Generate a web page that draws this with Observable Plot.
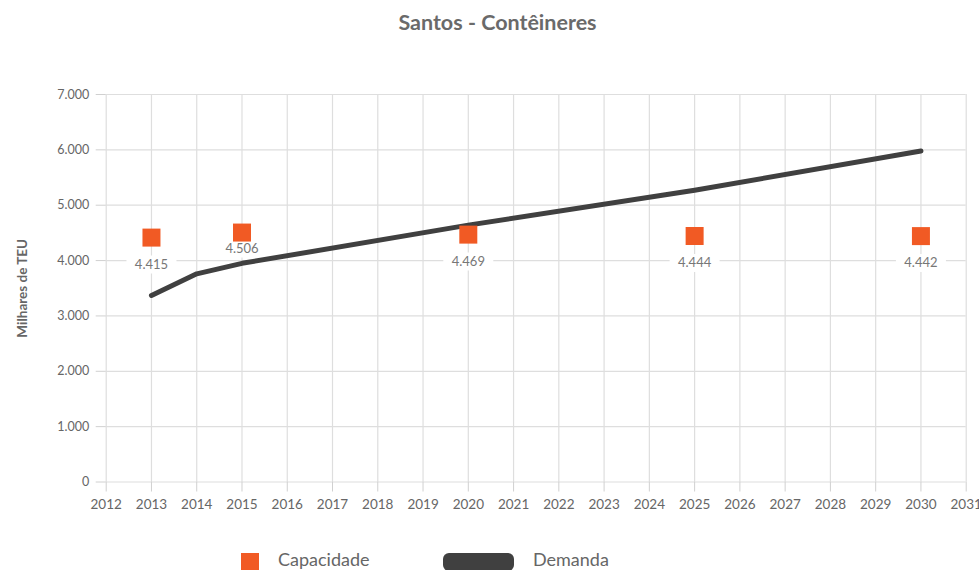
<!DOCTYPE html>
<html>
<head>
<meta charset="utf-8">
<script src="https://cdn.jsdelivr.net/npm/d3@7"></script>
<script src="https://cdn.jsdelivr.net/npm/@observablehq/plot@0.6"></script>
<style>
  html, body { margin: 0; padding: 0; background: #fff; width: 979px; height: 570px; overflow: hidden; }
  body { font-family: Lato, "Open Sans", sans-serif; color: #666; }
  #title { height: 44px; line-height: 44px; text-align: center; font-weight: bold; font-size: 21.5px; color: #6a6a6a; padding-left: 16px; }
  #chart svg { display: block; }
  g[aria-label="y-axis label"] text { font-weight: bold; font-size: 13.5px; fill: #666; }
  #legend { position: relative; height: 36px; }
  .sw { position: absolute; top: 19px; height: 18px; }
  .lt { position: absolute; top: 15px; font-size: 18px; line-height: 20px; color: #666; }
</style>
</head>
<body>
<div id="title">Santos - Contêineres</div>
<div id="chart"></div>
<div id="legend">
  <div class="sw" style="left:241px;width:18px;background:#F15A24;"></div>
  <div class="lt" style="left:278px;">Capacidade</div>
  <div class="sw" style="left:443px;width:71px;background:#404040;border-radius:6px;"></div>
  <div class="lt" style="left:533px;">Demanda</div>
</div>
<script>
// Capacidade (milhares de TEU)
const capYears = [2013, 2015, 2020, 2025, 2030];
const capValues = [4415, 4506, 4469, 4444, 4442];
// Demanda (milhares de TEU)
const demYears = [2013, 2014, 2015, 2020, 2025, 2030];
const demValues = [3370, 3760, 3950, 4640, 5270, 5980];
// Axis ticks
const xTicks = d3.range(2012, 2032);
const yTicks = [0, 1000, 2000, 3000, 4000, 5000, 6000, 7000];

const fmt = d => d3.format(",")(d).replace(/,/g, ".");
const cap = capYears.map((y, i) => ({year: y, value: capValues[i]}));
const dem = demYears.map((y, i) => ({year: y, value: demValues[i]}));

const squareSym = {draw(ctx) { ctx.rect(-9, -9, 18, 18); }};
const boxSym = {draw(ctx) { ctx.rect(-25, -9, 50, 18); }};
// label placement: most labels sit well below the square; the 2015 label is nudged up to clear the line
const below = d => d.year !== 2015;
const nudged = d => d.year === 2015;

const chart = Plot.plot({
  width: 979,
  height: 490,
  marginTop: 50,
  marginBottom: 52.5,
  marginLeft: 105.7,
  marginRight: 13.3,
  style: {fontFamily: "Lato, 'Open Sans', sans-serif", fontSize: "13px", color: "#666", background: "#fff"},
  x: {domain: [2012, 2031]},
  y: {domain: [0, 7000]},
  marks: [
    Plot.gridX(xTicks, {stroke: "#dedede", strokeOpacity: 1, strokeWidth: 1.2}),
    Plot.gridY(yTicks, {stroke: "#dedede", strokeOpacity: 1, strokeWidth: 1.2}),
    Plot.axisX({ticks: xTicks, tickFormat: d => String(d), tickSize: 10, tickPadding: 7, stroke: "#d0d0d0", fill: "#666", fontSize: 13.5, label: null}),
    Plot.axisY({ticks: yTicks, tickFormat: fmt, tickSize: 10, tickPadding: 7, stroke: "#d0d0d0", fill: "#666", fontSize: 12.5,
      label: "Milhares de TEU", labelAnchor: "center", labelArrow: "none", labelOffset: 89}),
    Plot.dot(cap, {filter: below, x: "year", y: "value", dy: 27, symbol: boxSym, fill: "white", stroke: null}),
    Plot.dot(cap, {filter: nudged, x: "year", y: "value", dy: 16, symbol: boxSym, fill: "white", stroke: null}),
    Plot.line(dem, {x: "year", y: "value", stroke: "#404040", strokeWidth: 5, strokeLinecap: "round", strokeLinejoin: "round"}),
    Plot.dot(cap, {x: "year", y: "value", symbol: squareSym, fill: "#F15A24", stroke: null}),
    Plot.text(cap, {filter: below, x: "year", y: "value", dy: 27, text: d => fmt(d.value), fill: "#777", fontSize: 13}),
    Plot.text(cap, {filter: nudged, x: "year", y: "value", dy: 16, text: d => fmt(d.value), fill: "#777", fontSize: 13})
  ]
});
document.getElementById("chart").appendChild(chart);
</script>
</body>
</html>
